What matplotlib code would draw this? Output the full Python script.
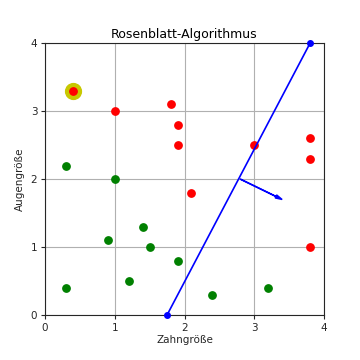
import matplotlib
matplotlib.use('Agg')
import matplotlib.pyplot as plt

# Datenpunkte (Zahngröße, Augengröße)
red_x = [0.4, 1.0, 1.8, 1.9, 1.9, 2.1, 3.0, 3.8, 3.8, 3.8]
red_y = [3.3, 3.0, 3.1, 2.8, 2.5, 1.8, 2.5, 2.6, 2.3, 1.0]
green_x = [0.3, 1.0, 0.9, 1.4, 1.5, 1.2, 1.9, 0.3, 2.4, 3.2]
green_y = [2.2, 2.0, 1.1, 1.3, 1.0, 0.5, 0.8, 0.4, 0.3, 0.4]

# hervorgehobener Punkt
hl_x, hl_y = 0.4, 3.3

# Trennlinie und Normalenvektor
line_x = [1.75, 3.8]
line_y = [0.0, 4.0]
arrow_start = (2.8, 2.0)
arrow_delta = (0.6, -0.3)

ticks = [0, 1, 2, 3, 4]

text_col = '#262626'
plt.rcParams['font.size'] = 7.5
plt.rcParams['text.color'] = text_col
plt.rcParams['xtick.color'] = text_col
plt.rcParams['ytick.color'] = text_col
plt.rcParams['axes.labelcolor'] = text_col

fig = plt.figure(figsize=(3.6, 3.6), dpi=100)
ax = fig.add_axes([0.125, 0.125, 0.775, 0.755])

ax.grid(True, color='#b0b0b0', linewidth=0.8)
ax.set_axisbelow(True)

ax.scatter([hl_x], [hl_y], s=130, color='#c8c800', zorder=2)
ax.scatter(red_x, red_y, s=28, color='red', zorder=3)
ax.scatter(green_x, green_y, s=28, color='green', zorder=3)

ax.plot(line_x, line_y, color='blue', linewidth=1.2, marker='o', markersize=4, zorder=4, clip_on=False)
ax.arrow(arrow_start[0], arrow_start[1], arrow_delta[0], arrow_delta[1],
         color='blue', width=0.005, head_width=0.05, head_length=0.1,
         length_includes_head=True, zorder=4)

ax.set_xlim(0, 4)
ax.set_ylim(0, 4)
ax.set_xticks(ticks)
ax.set_yticks(ticks)
for s in ax.spines.values():
    s.set_color(text_col)
ax.tick_params(length=3, width=0.8, pad=2.5)

ax.set_title('Rosenblatt-Algorithmus', fontsize=9, color='black', pad=4)
ax.set_xlabel('Zahngröße', labelpad=2)
ax.set_ylabel('Augengröße', labelpad=4)

plt.savefig('out.png', dpi=100)
